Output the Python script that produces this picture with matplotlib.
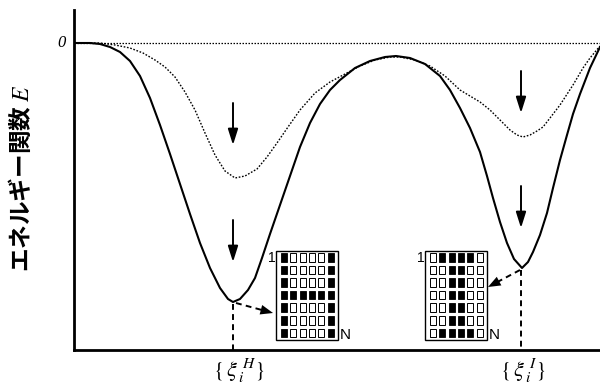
import matplotlib
matplotlib.use("Agg")
import matplotlib.pyplot as plt
from matplotlib.patches import Rectangle

plt.rcParams['mathtext.fontset'] = 'stix'

# ---- data (state coordinate, energy in arbitrary units) ----
solid_x = [0, 16, 26, 36, 46, 56, 66, 76, 86, 96, 106, 116, 126, 136, 146, 154, 159,
           166, 174, 181, 188, 196, 206, 216, 226, 236, 246, 256, 266, 281, 296, 311, 322,
           336, 351, 366, 376, 386, 396, 406, 413, 419, 426, 433, 440, 448,
           454, 459, 466, 473, 479, 486, 493, 499, 506, 516, 526]
solid_E = [0, 0, -1, -4, -9, -18, -33, -55, -82, -111, -141, -171, -200, -225, -245, -256, -259,
           -256, -247, -235, -215, -191, -162, -133, -104, -80, -61, -47, -37, -25, -18, -14, -13,
           -15, -21, -33, -47, -65, -85, -109, -133, -155, -179, -200, -216, -225,
           -219, -209, -192, -170, -145, -117, -92, -71, -51, -25, -4]

dotted_x = [0, 26, 41, 56, 69, 81, 91, 101, 111, 121, 131, 141, 151, 161, 171, 183, 193,
            203, 214, 226, 241, 256, 271, 286, 301, 316, 326, 341, 356, 371, 386, 396, 406,
            416, 426, 436, 443, 449, 456, 463, 469, 476, 486, 499, 509, 516, 526]
dotted_E = [0, 0, -2, -5, -10, -17, -24, -34, -49, -67, -90, -112, -128, -135, -133, -126, -114,
            -100, -84, -67, -50, -39, -31, -23, -17, -14, -14, -17, -23, -33, -47, -53, -59,
            -67, -77, -87, -92, -94, -92, -88, -84, -75, -62, -42, -25, -15, -3]

# memory states
state_x = [159, 447]
state_E_solid = [-259, -225]
upper_arrow_tip = [-102, -70]
upper_arrow_tail = [-60, -28]
lower_arrow_tip = [-219, -185]
lower_arrow_tail = [-177, -143]
state_labels = [r'$\{\,\xi_{\,i}^{\;H}\}$', r'$\{\,\xi_{\,i}^{\;I}\}$']

pattern_H = ["#....#",
             "#....#",
             "#....#",
             "######",
             "#....#",
             "#....#",
             "#....#"]
pattern_I = [".####.",
             "..##..",
             "..##..",
             "..##..",
             "..##..",
             "..##..",
             ".####."]

# ---- figure ----
fig = plt.figure(figsize=(6.0, 3.85), dpi=100)
ax = fig.add_axes([74/600, 35/385, 526/600, 340/385])
ax.set_xlim(0, 526)
ax.set_ylim(-307, 33)
for s in ['top', 'right']:
    ax.spines[s].set_visible(False)
for s in ['left', 'bottom']:
    ax.spines[s].set_linewidth(2.0)
ax.set_xticks([])
ax.set_yticks([])

# zero line
ax.axhline(0, color='black', lw=0.9, ls=(0, (1.2, 1.2)), zorder=1)

ax.plot(dotted_x, dotted_E, color='black', lw=1.0, ls=(0, (1.2, 1.2)), zorder=2)
ax.plot(solid_x, solid_E, color='black', lw=1.5, zorder=3, solid_capstyle='round')

ax.text(-8, 0, '0', ha='right', va='center', fontsize=12, fontstyle='italic',
        family='Liberation Serif')

ap = dict(arrowstyle='-|>,head_length=0.95,head_width=0.3', color='black', lw=1.4,
          mutation_scale=10, shrinkA=0, shrinkB=0)
for x, t0, t1 in zip(state_x, upper_arrow_tail, upper_arrow_tip):
    ax.annotate('', xy=(x, t1), xytext=(x, t0), arrowprops=ap)
for x, t0, t1 in zip(state_x, lower_arrow_tail, lower_arrow_tip):
    ax.annotate('', xy=(x, t1), xytext=(x, t0), arrowprops=ap)

# vertical dashed lines from minima
for x, e in zip(state_x, state_E_solid):
    ax.plot([x, x], [e - 2, -307], color='black', lw=1.4, ls=(0, (3, 2.2)), zorder=2)

# pattern boxes
def draw_pattern(pat, left, top):
    pitch_x, pitch_y = 9.3, 12.6
    cw, ch = 6.0, 8.5
    ncol, nrow = len(pat[0]), len(pat)
    bw = 5 + pitch_x * (ncol - 1) + cw + 4
    bh = 2 + pitch_y * (nrow - 1) + ch + 3
    ax.add_patch(Rectangle((left, top - bh), bw, bh, fill=False, ec='black', lw=1.0))
    for r, row in enumerate(pat):
        for c, ch_ in enumerate(row):
            x0 = left + 5 + c * pitch_x
            y0 = top - 2 - r * pitch_y - ch
            if ch_ == '#':
                ax.add_patch(Rectangle((x0, y0), cw, ch, fc='black', ec='black', lw=0.6))
            else:
                ax.add_patch(Rectangle((x0, y0), cw, ch, fill=False, ec='black', lw=0.7))
    ax.text(left - 0.5, top - 7, '1', ha='right', va='center', fontsize=10, family='Liberation Sans')
    ax.text(left + bw + 2, top - bh + 5, 'N', ha='left', va='center', fontsize=11,
            family='Liberation Sans')
    return bw, bh

draw_pattern(pattern_H, 202, -208)
draw_pattern(pattern_I, 351, -208)

# dashed arrows from minima to patterns
def dashed_arrow(x0, y0, x1, y1):
    ax.plot([x0, x0 + 0.7 * (x1 - x0)], [y0, y0 + 0.7 * (y1 - y0)], color='black', lw=1.4,
            ls=(0, (3, 2.2)))
    ax.annotate('', xy=(x1, y1), xytext=(x0 + 0.6 * (x1 - x0), y0 + 0.6 * (y1 - y0)),
                arrowprops=dict(arrowstyle='-|>,head_length=0.9,head_width=0.35', color='black',
                                lw=0.01, mutation_scale=10, shrinkA=0, shrinkB=0))

dashed_arrow(162, -260, 199, -270)
dashed_arrow(446, -227, 414, -244)

# labels under axis
for x, lab in zip([165, 449], state_labels):
    ax.text(x, -328, lab, ha='center', va='center', fontsize=16)

# y label
fig.text(21/600, 1 - 178/385, 'エネルギー関数 $E$', rotation=90, ha='center', va='center',
         fontsize=17, fontweight='bold', family=['Noto Sans CJK JP', 'DejaVu Sans'])

fig.savefig('out.png', dpi=100)
